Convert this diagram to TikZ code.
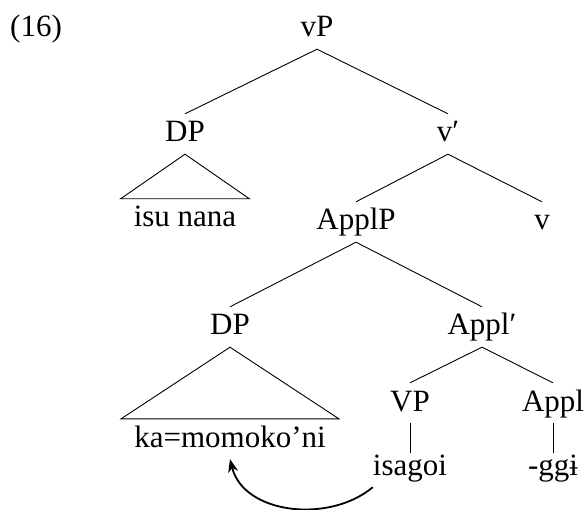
\documentclass[tikz,border=0pt]{standalone}
\usepackage{fontspec}
\setmainfont{Liberation Serif}
\usetikzlibrary{arrows.meta}
\begin{document}
\begin{tikzpicture}[x=1pt,y=1pt,
  cat/.style={anchor=base, inner xsep=0pt, inner ysep=3pt,
    text height=25pt, text depth=9pt, font=\fontsize{31}{36}\selectfont},
  roof/.style={cat, inner xsep=13pt},
  branch/.style={line width=0.9pt},
  move/.style={line width=1.8pt, -{Stealth[length=13pt,width=10pt,inset=4pt]}}]
\useasboundingbox (0,0) rectangle (586,-510);

% example number
\node[cat, anchor=base west] (ex) at (10,-37) {(16)};

% tree labels
\node[cat] (vp)    at (317,-37)  {vP};
\node[cat] (dpa)   at (185,-142) {DP};
\node[cat] (vbar)  at (448,-142) {v′};
\node[roof] (isu)  at (185,-227) {isu nana};
\node[cat] (applp) at (356,-230) {ApplP};
\node[cat] (v)     at (542,-230) {v};
\node[cat] (dpb)   at (230,-335) {DP};
\node[cat] (applb) at (482,-335) {Appl′};
\node[roof] (ka)   at (230,-447) {ka=momoko’ni};
\node[cat] (vpl)   at (410,-411) {VP};
\node[cat] (appl)  at (553,-411) {Appl};
\node[cat] (isa)   at (410,-475) {isagoi};
\node[cat] (ggi)   at (553,-475) {-ggɨ};

% branches
\draw[branch] (dpa.north) -- (vp.south) -- (vbar.north);
\draw[branch] (applp.north) -- (vbar.south) -- (v.north);
\draw[branch] (dpb.north) -- (applp.south) -- (applb.north);
\draw[branch] (vpl.north) -- (applb.south) -- (appl.north);
\draw[branch, shorten >=-6pt] (vpl.south) -- (isa.north);
\draw[branch, shorten >=-6pt] (appl.south) -- (ggi.north);

% triangles over phrasal leaves
\draw[branch] (dpa.south) -- (isu.north west) -- (isu.north east) -- cycle;
\draw[branch] (dpb.south) -- (ka.north west) -- (ka.north east) -- cycle;

% movement arrow
\draw[move] (isa.south west) to[out=220, in=-76] (ka.south);
\end{tikzpicture}
\end{document}
